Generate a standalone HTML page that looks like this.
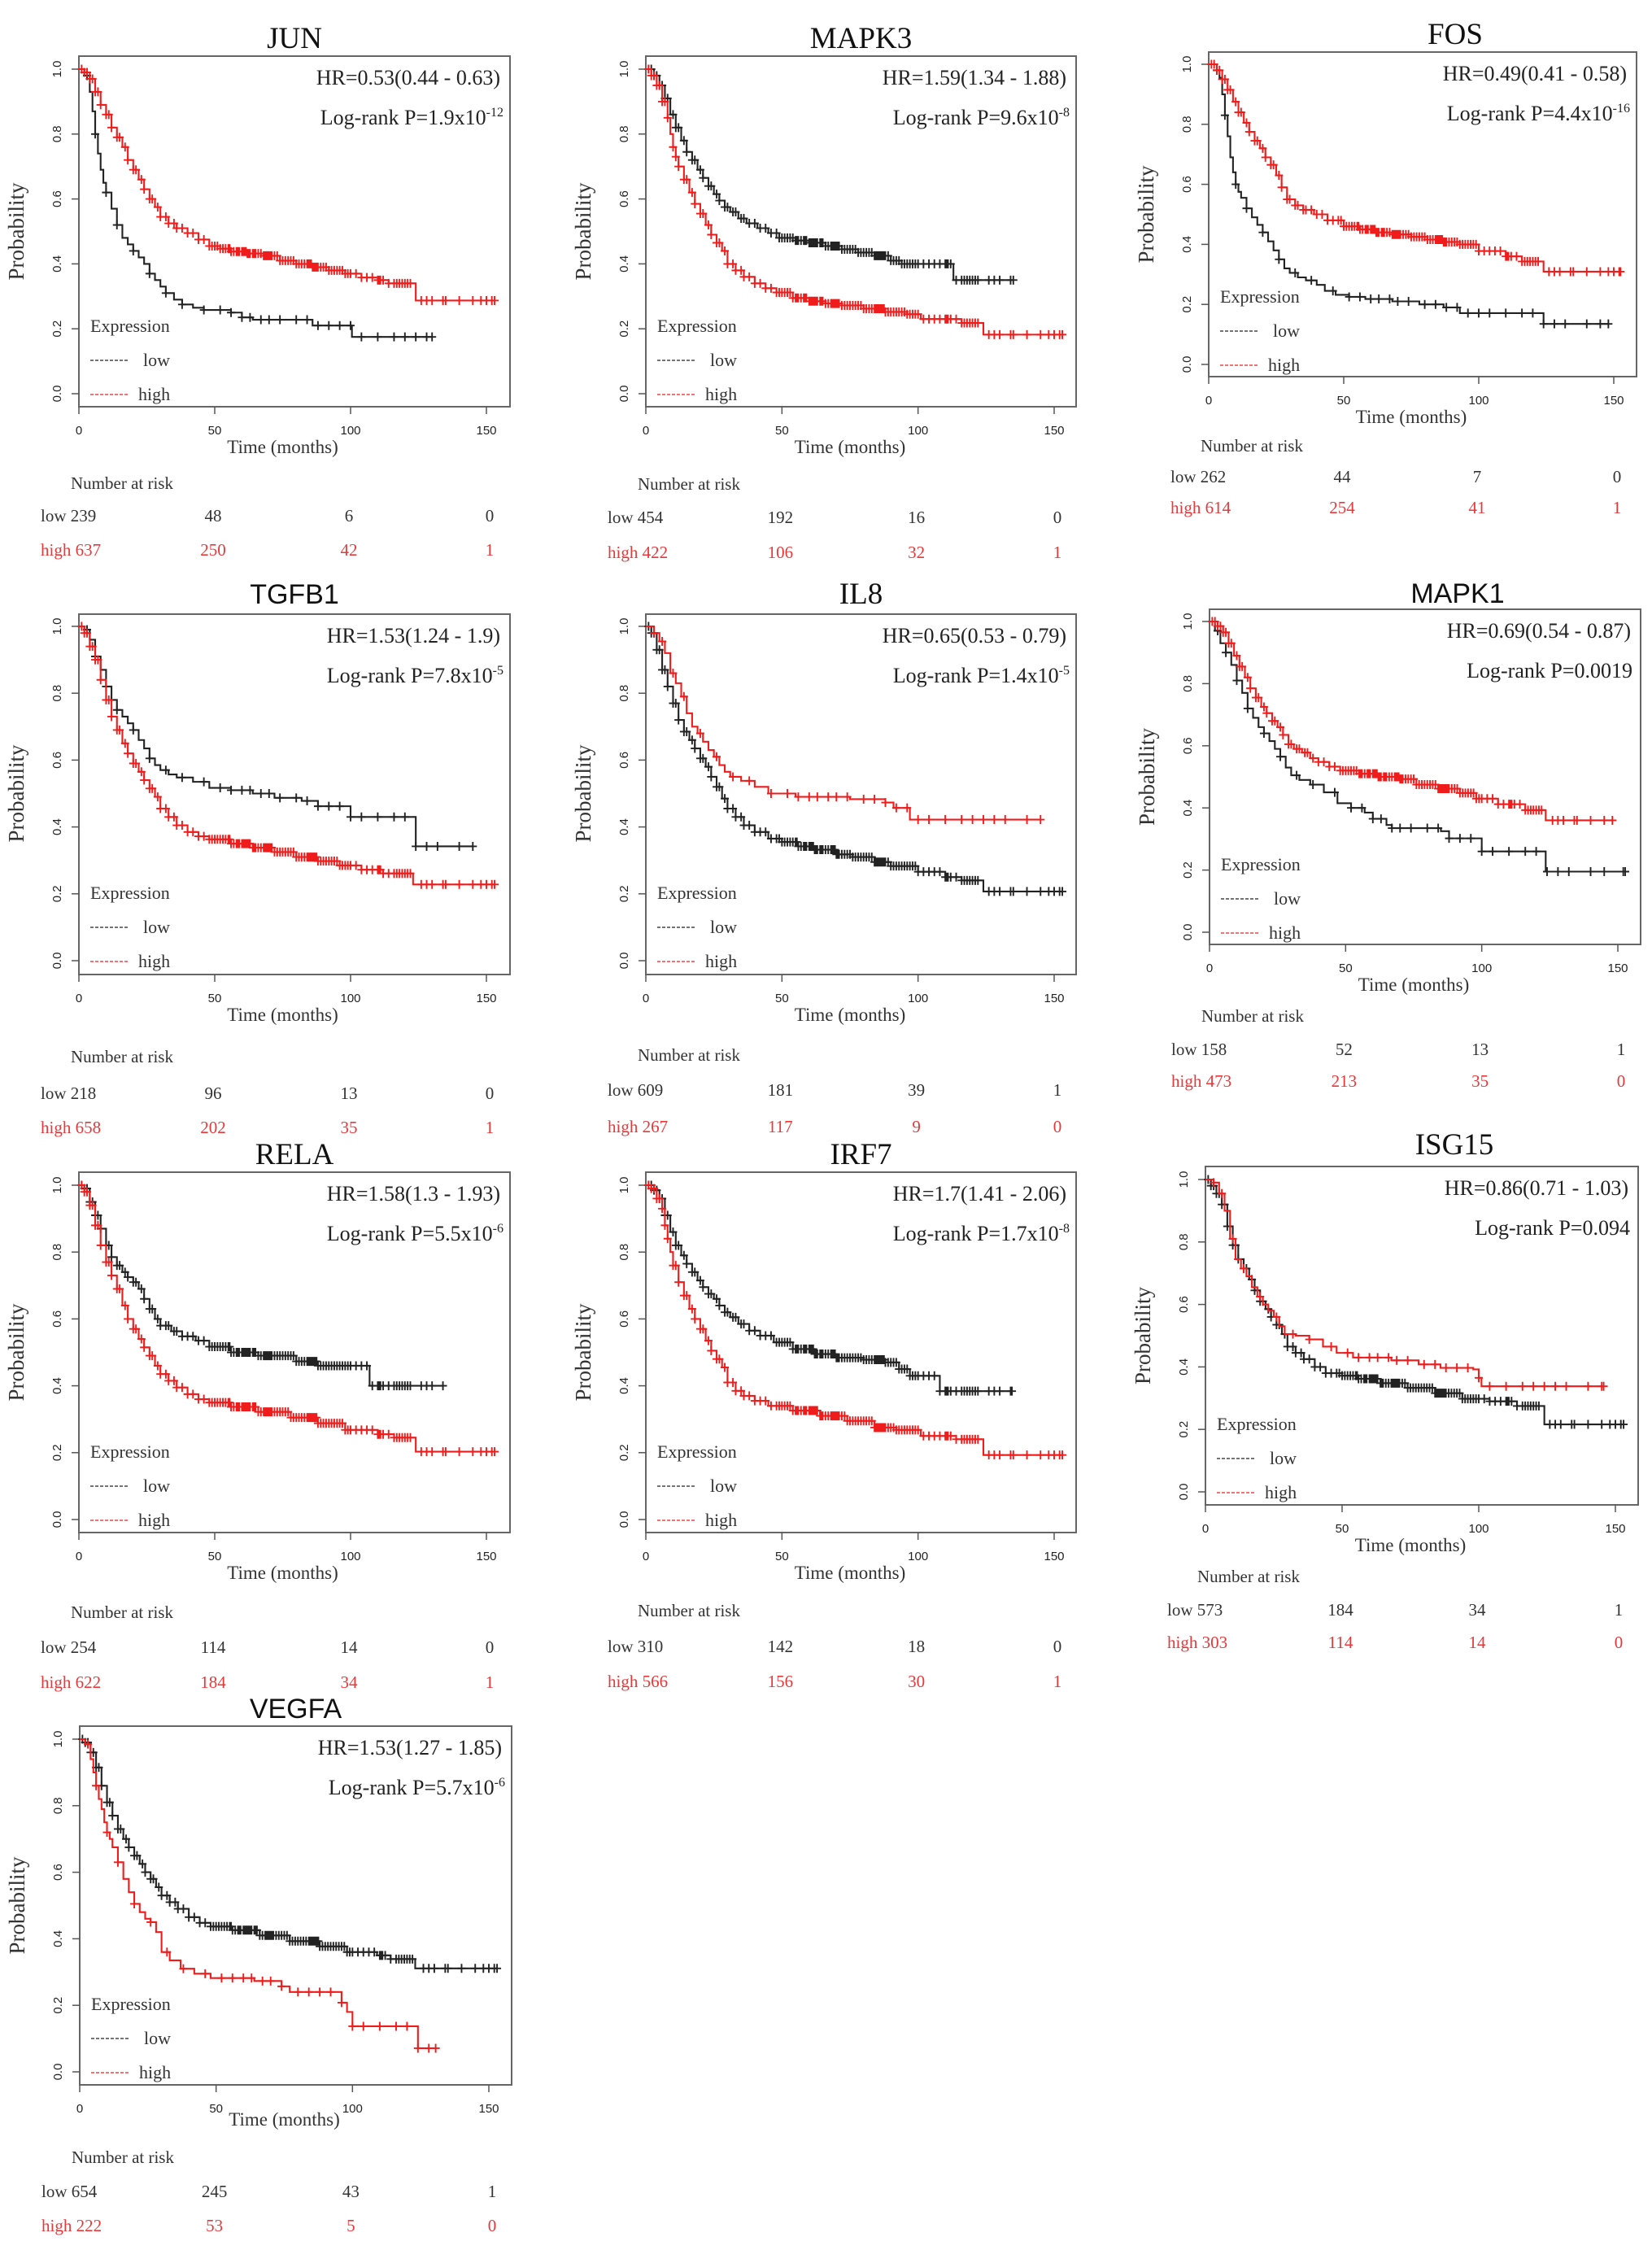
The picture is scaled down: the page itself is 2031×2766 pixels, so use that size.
<!DOCTYPE html>
<html><head><meta charset="utf-8"><title>Kaplan-Meier survival curves</title>
<style>
html,body{margin:0;padding:0;background:#fff;}
svg{display:block;}
</style></head>
<body>
<svg id="fig" width="2031" height="2766" viewBox="0 0 2031 2766" xmlns="http://www.w3.org/2000/svg"></svg>
<script>
// ---------- data (months, survival probability) ----------
const timeTicks=[0,50,100,150];
const probTicks=[0,0.2,0.4,0.6,0.8,1.0];
const probTickLabels=["0.0","0.2","0.4","0.6","0.8","1.0"];

const junLowT=[0,2,4,5,6,7,8,9,10,12,14,16,18,20,22,24,26,28,30,32,35,38,42,46,56,60,64,86,100.5];
const junLowS=[1,0.98,0.93,0.87,0.8,0.74,0.69,0.65,0.62,0.57,0.52,0.48,0.46,0.44,0.42,0.40,0.37,0.35,0.33,0.31,0.29,0.275,0.265,0.258,0.25,0.235,0.228,0.21,0.175];
const junHighT=[0,2,4,6,8,10,12,14,16,18,20,22,24,26,28,30,33,36,40,44,48,52,56,62,68,74,80,86,92,98,104,110,114,124];
const junHighS=[1,0.99,0.97,0.93,0.89,0.86,0.82,0.79,0.76,0.72,0.69,0.66,0.63,0.60,0.575,0.545,0.525,0.51,0.495,0.475,0.455,0.447,0.438,0.432,0.425,0.41,0.4,0.39,0.38,0.37,0.358,0.35,0.34,0.287];

const mapk3LowT=[0,3,5,7,9,11,13,15,17,19,21,23,25,27,29,31,34,37,41,45,49,55,60,66,72,78,84,90,94,113];
const mapk3LowS=[1,0.98,0.95,0.91,0.86,0.82,0.78,0.745,0.72,0.69,0.665,0.64,0.615,0.595,0.575,0.56,0.54,0.525,0.51,0.495,0.48,0.472,0.465,0.455,0.445,0.435,0.425,0.41,0.40,0.35];
const mapk3HighT=[0,2,4,6,8,9,10,11,12,14,16,18,20,22,24,26,28,30,33,36,40,44,48,54,60,66,72,80,88,96,101,116,124];
const mapk3HighS=[1,0.98,0.95,0.9,0.85,0.8,0.76,0.73,0.7,0.66,0.62,0.585,0.555,0.52,0.49,0.465,0.44,0.4,0.38,0.36,0.34,0.325,0.312,0.295,0.285,0.278,0.272,0.262,0.252,0.245,0.23,0.218,0.182];

const fosLowT=[0,3,4,5,6,7,8,9,10,11,12,14,16,18,20,22,24,26,28,30,33,36,40,43,47,52,58,68,78,87,93,124];
const fosLowS=[1,0.98,0.955,0.9,0.83,0.76,0.69,0.64,0.6,0.575,0.555,0.52,0.49,0.465,0.44,0.41,0.38,0.35,0.32,0.305,0.29,0.28,0.265,0.245,0.232,0.225,0.218,0.21,0.2,0.19,0.171,0.135];
const fosHighT=[0,3,5,7,9,11,13,15,17,19,21,23,25,27,29,32,35,39,44,50,56,62,68,75,81,87,93,100,110,116,124];
const fosHighS=[1,0.98,0.95,0.915,0.875,0.84,0.805,0.775,0.745,0.72,0.69,0.665,0.63,0.59,0.55,0.53,0.515,0.5,0.48,0.46,0.45,0.44,0.433,0.425,0.416,0.408,0.4,0.378,0.36,0.343,0.309];

const tgfb1LowT=[0,2,4,6,8,10,12,14,16,18,20,22,24,26,28,30,33,36,42,48,56,64,72,82,88,100,124];
const tgfb1LowS=[1,0.99,0.96,0.91,0.87,0.82,0.78,0.75,0.73,0.71,0.69,0.66,0.635,0.605,0.585,0.57,0.557,0.548,0.535,0.517,0.51,0.5,0.487,0.478,0.462,0.43,0.342];
const tgfb1HighT=[0,2,4,6,8,10,12,14,16,18,20,22,24,26,28,30,33,36,40,44,48,56,64,72,80,88,96,104,112,123];
const tgfb1HighS=[1,0.98,0.94,0.9,0.84,0.78,0.73,0.69,0.65,0.62,0.59,0.565,0.54,0.515,0.49,0.455,0.43,0.405,0.385,0.372,0.363,0.35,0.338,0.325,0.31,0.298,0.285,0.272,0.261,0.228];

const il8LowT=[0,2,4,6,8,10,12,14,16,18,20,22,24,26,28,30,33,36,40,45,50,56,62,70,76,84,90,100,110,116,124];
const il8LowS=[1,0.98,0.93,0.87,0.82,0.77,0.72,0.685,0.66,0.635,0.605,0.58,0.55,0.52,0.485,0.455,0.43,0.405,0.385,0.365,0.355,0.342,0.332,0.318,0.31,0.295,0.283,0.266,0.25,0.24,0.207];
const il8HighT=[0,3,5,7,9,11,13,15,17,19,21,23,25,27,29,31,35,40,45,55,75,88,91,97];
const il8HighS=[1,0.98,0.955,0.92,0.86,0.83,0.79,0.74,0.70,0.68,0.655,0.63,0.61,0.585,0.565,0.55,0.538,0.52,0.5,0.49,0.483,0.473,0.457,0.422];

const mapk1LowT=[0,2,4,6,8,10,12,14,16,18,20,22,24,26,28,30,33,37,42,47,52,57,60,65,67,85,88,100,123.5];
const mapk1LowS=[1,0.97,0.93,0.9,0.86,0.81,0.77,0.72,0.69,0.66,0.64,0.615,0.59,0.565,0.53,0.505,0.49,0.475,0.45,0.415,0.4,0.385,0.365,0.345,0.335,0.325,0.302,0.26,0.195];
const mapk1HighT=[0,3,5,7,9,11,13,15,17,19,21,23,25,27,29,31,34,37,40,44,48,55,62,70,76,84,92,98,106,116,123.5];
const mapk1HighS=[1,0.985,0.965,0.93,0.89,0.855,0.82,0.785,0.755,0.725,0.705,0.68,0.66,0.635,0.605,0.59,0.578,0.56,0.548,0.533,0.52,0.51,0.5,0.493,0.475,0.462,0.448,0.43,0.412,0.393,0.36];

const relaLowT=[0,2,4,6,8,10,12,14,16,18,20,22,24,26,28,30,34,38,43,48,56,66,80,88,107];
const relaLowS=[1,0.99,0.95,0.91,0.87,0.82,0.785,0.76,0.74,0.725,0.71,0.69,0.66,0.63,0.6,0.58,0.563,0.548,0.535,0.517,0.5,0.49,0.473,0.46,0.4];
const relaHighT=[0,2,4,6,8,10,12,14,16,18,20,22,24,26,28,30,33,36,40,44,48,56,66,78,88,98,110,116,124];
const relaHighS=[1,0.98,0.94,0.88,0.82,0.77,0.73,0.69,0.64,0.6,0.57,0.54,0.515,0.49,0.46,0.435,0.415,0.395,0.375,0.36,0.35,0.337,0.322,0.305,0.288,0.268,0.255,0.245,0.203];

const irf7LowT=[0,3,5,7,9,11,13,15,17,19,21,23,25,27,29,31,34,38,42,47,54,62,70,80,88,93,97,108];
const irf7LowS=[1,0.985,0.96,0.91,0.86,0.82,0.79,0.765,0.74,0.715,0.695,0.675,0.66,0.64,0.62,0.605,0.585,0.565,0.55,0.53,0.51,0.495,0.484,0.478,0.47,0.45,0.43,0.384];
const irf7HighT=[0,2,4,6,7,8,9,10,12,14,16,18,20,22,24,26,28,30,33,36,40,45,54,64,74,84,92,101,114,124];
const irf7HighS=[1,0.99,0.96,0.93,0.88,0.84,0.8,0.76,0.71,0.67,0.63,0.6,0.57,0.535,0.505,0.48,0.455,0.41,0.385,0.37,0.355,0.34,0.326,0.31,0.295,0.275,0.268,0.25,0.24,0.193];

const isg15LowT=[0,2,4,6,8,10,12,14,16,18,20,22,24,26,28,30,33,36,40,44,50,56,64,74,84,94,104,114,124];
const isg15LowS=[1,0.98,0.955,0.92,0.85,0.79,0.745,0.715,0.68,0.645,0.61,0.585,0.56,0.535,0.505,0.465,0.445,0.425,0.4,0.38,0.372,0.362,0.348,0.333,0.316,0.298,0.29,0.275,0.216];
const isg15HighT=[0,3,5,7,9,11,13,15,17,19,21,23,25,27,29,33,38,43,48,54,68,78,86,98,100,101];
const isg15HighS=[1,0.99,0.955,0.9,0.81,0.745,0.715,0.69,0.655,0.625,0.6,0.58,0.56,0.53,0.505,0.5,0.488,0.465,0.445,0.43,0.421,0.408,0.397,0.392,0.365,0.338];

const vegfaLowT=[0,2,4,6,8,10,12,14,16,18,20,22,24,26,28,30,33,36,40,44,48,56,66,77,88,98,109,114,123];
const vegfaLowS=[1,0.99,0.96,0.915,0.86,0.81,0.77,0.73,0.7,0.675,0.65,0.625,0.6,0.58,0.555,0.53,0.51,0.49,0.465,0.448,0.437,0.426,0.41,0.393,0.377,0.36,0.35,0.339,0.311];
const vegfaHighT=[0,2,4,5,6,7,8,9,10,11,12,14,16,18,20,22,24,26,28,30,33,37,42,48,64,74,77,96,98,100,124];
const vegfaHighS=[1,0.985,0.94,0.9,0.86,0.82,0.79,0.75,0.72,0.7,0.675,0.63,0.58,0.54,0.505,0.48,0.46,0.45,0.42,0.36,0.335,0.31,0.295,0.282,0.273,0.257,0.24,0.208,0.18,0.137,0.071];

const lowEnd=[130,135,148,145,153,152.7,134,134.5,153,153];
const highEnd=[153,153,152.5,153,145,148,153,153,145.7,130.5];

const censorDense=[1,2,3,4,5,6,7,8,10,11,12,14,15,17,18,20,21,23,24,26,27,29,30,32,33,35,36,38,40,42,44,46,48,49,50,51,52,53,54,55,55.5,56,57,58,58.5,59,60,60.5,61,61.5,62,62.5,63,64,64.5,65,66,67,68,68.5,69,69.5,70,70.5,71,72,73,74,75,76,77,78,79,80,81,82,83,84,84.5,85,85.5,86,86.5,87,87.5,88,89,90,91,92,93,94,95,96,97,98,99,100,102,104,106,108,110,110.5,111,112,114,116,117,118,119,120,121,122,126,128,130,134,135,140,145,148,150,152];
const censorSparse=[3,6,10,14,20,26,32,38,46,52,56,60,63,67,70,74,80,84,88,92,96,100,104,110,116,120,124,128,132,140,145,152];

const riskLow=[[239,48,6,0],[454,192,16,0],[262,44,7,0],[218,96,13,0],[609,181,39,1],[158,52,13,1],[254,114,14,0],[310,142,18,0],[573,184,34,1],[654,245,43,1]];
const riskHigh=[[637,250,42,1],[422,106,32,1],[614,254,41,1],[658,202,35,1],[267,117,9,0],[473,213,35,0],[622,184,34,1],[566,156,30,1],[303,114,14,0],[222,53,5,0]];

const geneNames=["JUN","MAPK3","FOS","TGFB1","IL8","MAPK1","RELA","IRF7","ISG15","VEGFA"];
const hrLabels=["HR=0.53(0.44 - 0.63)","HR=1.59(1.34 - 1.88)","HR=0.49(0.41 - 0.58)","HR=1.53(1.24 - 1.9)","HR=0.65(0.53 - 0.79)","HR=0.69(0.54 - 0.87)","HR=1.58(1.3 - 1.93)","HR=1.7(1.41 - 2.06)","HR=0.86(0.71 - 1.03)","HR=1.53(1.27 - 1.85)"];
const pMantissa=["1.9x10","9.6x10","4.4x10","7.8x10","1.4x10","0.0019","5.5x10","1.7x10","0.094","5.7x10"];
const pExponent=["-12","-8","-16","-5","-5","","-6","-8","","-6"];

const lowT=[junLowT,mapk3LowT,fosLowT,tgfb1LowT,il8LowT,mapk1LowT,relaLowT,irf7LowT,isg15LowT,vegfaLowT];
const lowS=[junLowS,mapk3LowS,fosLowS,tgfb1LowS,il8LowS,mapk1LowS,relaLowS,irf7LowS,isg15LowS,vegfaLowS];
const highT=[junHighT,mapk3HighT,fosHighT,tgfb1HighT,il8HighT,mapk1HighT,relaHighT,irf7HighT,isg15HighT,vegfaHighT];
const highS=[junHighS,mapk3HighS,fosHighS,tgfb1HighS,il8HighS,mapk1HighS,relaHighS,irf7HighS,isg15HighS,vegfaHighS];
const lowCensor=[censorSparse,censorDense,censorSparse,censorSparse,censorDense,censorSparse,censorDense,censorDense,censorDense,censorDense];
const highCensor=[censorDense,censorDense,censorDense,censorDense,censorSparse,censorDense,censorDense,censorDense,censorSparse,censorSparse];

// ---------- layout (pixels) ----------
const layout=[
 {L:97,T:69,R:627,B:500,X150:598,Y1:85,Y0:484,tY:47,nY:594,lY:634,hY:676,sans:false},
 {L:794,T:69,R:1323,B:500,X150:1296,Y1:85,Y0:484,tY:47,nY:595,lY:636,hY:679,sans:false},
 {L:1486,T:64,R:2012,B:463,X150:1984,Y1:79,Y0:448,tY:42,nY:548,lY:586,hY:624,sans:false},
 {L:97,T:755,R:627,B:1198,X150:598,Y1:770,Y0:1181,tY:730,nY:1299,lY:1344,hY:1386,sans:true},
 {L:794,T:755,R:1323,B:1198,X150:1296,Y1:770,Y0:1181,tY:730,nY:1297,lY:1340,hY:1385,sans:false},
 {L:1487,T:749,R:2017,B:1161,X150:1989,Y1:764,Y0:1146,tY:729,nY:1249,lY:1290,hY:1329,sans:true},
 {L:97,T:1441,R:627,B:1884,X150:598,Y1:1457,Y0:1868,tY:1419,nY:1982,lY:2025,hY:2068,sans:false},
 {L:794,T:1441,R:1323,B:1884,X150:1296,Y1:1457,Y0:1868,tY:1419,nY:1980,lY:2024,hY:2067,sans:false},
 {L:1482,T:1434,R:2014,B:1850,X150:1986,Y1:1450,Y0:1834,tY:1407,nY:1938,lY:1979,hY:2019,sans:false},
 {L:98,T:2122,R:629,B:2563,X150:601,Y1:2138,Y0:2547,tY:2100,nY:2652,lY:2694,hY:2736,sans:true}
];

const NS="http://www.w3.org/2000/svg";
const SERIF='"Liberation Serif", serif';
const SANS='"Liberation Sans", sans-serif';
const RED="#f01c1c", BLACK="#222", RISKRED="#e8383a";
const svg=document.getElementById("fig");

function mk(parent,tag,attrs,txt){
  const e=document.createElementNS(NS,tag);
  for(const k in attrs) e.setAttribute(k,attrs[k]);
  if(txt!==undefined) e.textContent=txt;
  parent.appendChild(e);
  return e;
}
function stepAt(T,S,c){let v=S[0];for(let i=0;i<T.length;i++){if(T[i]<=c)v=S[i];else break;}return v;}

function drawPanel(i){
  const g=layout[i];
  const xs=t=>g.L+(g.X150-g.L)*t/150;
  const ys=p=>g.Y0-(g.Y0-g.Y1)*p;
  const grp=mk(svg,"g",{});
  
  

  const title=mk(grp,"text",{x:(g.L+g.R)/2+(i%3===2?40:0),y:g.tY+12,"text-anchor":"middle","font-family":g.sans?SANS:SERIF,"font-size":g.sans?34:37,fill:"#111"},geneNames[i]);
  
  

  const box=mk(grp,"rect",{x:g.L,y:g.T,width:g.R-g.L,height:g.B-g.T,fill:"none",stroke:"#666","stroke-width":2});
  
  

  probTicks.forEach((p,k)=>{
    const y=ys(p);
    const tk=mk(grp,"line",{x1:g.L-9,x2:g.L,y1:y,y2:y,stroke:"#555","stroke-width":1.5});
    
    
    const lb=mk(grp,"text",{x:0,y:0,transform:`translate(${g.L-22},${y}) rotate(-90)`,"text-anchor":"middle","font-family":SANS,"font-size":15,fill:"#222"},probTickLabels[k]);
    
    
  });
  const yt=mk(grp,"text",{x:0,y:0,transform:`translate(${g.L-68},${(g.Y0+g.Y1)/2}) rotate(-90)`,"text-anchor":"middle","font-family":SERIF,"font-size":27,fill:"#333"},"Probability");
  
  

  timeTicks.forEach(t=>{
    const x=xs(t);
    const tk=mk(grp,"line",{x1:x,x2:x,y1:g.B,y2:g.B+9,stroke:"#555","stroke-width":1.5});
    
    
    const lb=mk(grp,"text",{x:x,y:g.B+34,"text-anchor":"middle","font-family":SANS,"font-size":15,fill:"#222"},String(t));
    
    
  });
  const xt=mk(grp,"text",{x:xs(75),y:g.B+(i===9?50:57),"text-anchor":"middle","font-family":SERIF,"font-size":23,fill:"#333"},"Time (months)");
  
  

  const series=[{T:lowT[i],S:lowS[i],end:lowEnd[i],C:lowCensor[i],col:BLACK,name:'low'},
                {T:highT[i],S:highS[i],end:highEnd[i],C:highCensor[i],col:RED,name:'high'}];
  series.forEach(s=>{
    let d=`M${xs(0)},${ys(s.S[0])}`;
    for(let k=1;k<s.T.length;k++){d+=`H${xs(s.T[k])}V${ys(s.S[k])}`;}
    d+=`H${xs(s.end)}`;
    const p=mk(grp,"path",{d:d,fill:"none",stroke:s.col,"stroke-width":2.1});
    
    
    let cd="";
    s.C.filter(c=>c<s.end).concat([s.end]).forEach(c=>{
      const x=xs(c), y=ys(stepAt(s.T,s.S,c));
      cd+=`M${x-5},${y}H${x+5}M${x},${y-5.5}V${y+5.5}`;
    });
    const cm=mk(grp,"path",{d:cd,fill:"none",stroke:s.col,"stroke-width":1.9});
    
    
  });

  const hr=mk(grp,"text",{x:g.R-12,y:g.T+35,"text-anchor":"end","font-family":SERIF,"font-size":26,fill:"#222"},hrLabels[i]);
  
  
  const pv=mk(grp,"text",{x:g.R-(pExponent[i]?8:10),y:g.T+84,"text-anchor":"end","font-family":SERIF,"font-size":26,fill:"#222"});
  
  
  mk(pv,"tspan",{},"Log-rank P="+pMantissa[i]);
  if(pExponent[i]) mk(pv,"tspan",{dy:-10,"font-size":16},pExponent[i]);

  const lg=mk(grp,"g",{});
  
  
  mk(lg,"text",{x:g.L+14,y:g.Y0-76,"font-family":SERIF,"font-size":22,fill:"#333"},"Expression");
  const ll=mk(lg,"line",{x1:g.L+14,x2:g.L+60,y1:g.Y0-41,y2:g.Y0-41,stroke:BLACK,"stroke-width":1.3,"stroke-dasharray":"4,2"});
  
  
  mk(lg,"text",{x:g.L+79,y:g.Y0-34,"font-family":SERIF,"font-size":22,fill:"#333"},"low");
  const hl=mk(lg,"line",{x1:g.L+14,x2:g.L+60,y1:g.Y0+1,y2:g.Y0+1,stroke:RED,"stroke-width":1.3,"stroke-dasharray":"4,2"});
  
  
  mk(lg,"text",{x:g.L+73,y:g.Y0+8,"font-family":SERIF,"font-size":22,fill:"#333"},"high");

  const rk=mk(grp,"g",{});
  
  
  mk(rk,"text",{x:g.L-10,y:g.nY+7,"font-family":SERIF,"font-size":21,fill:"#333"},"Number at risk");
  mk(rk,"text",{x:g.L-47,y:g.lY+7,"font-family":SERIF,"font-size":21,fill:"#333"},"low "+riskLow[i][0]);
  mk(rk,"text",{x:g.L-47,y:g.hY+7,"font-family":SERIF,"font-size":21,fill:RISKRED},"high "+riskHigh[i][0]);
  for(let k=1;k<4;k++){
    const x=xs(timeTicks[k])+(k===3?4:-2);
    mk(rk,"text",{x:x,y:g.lY+7,"text-anchor":"middle","font-family":SERIF,"font-size":21,fill:"#333"},String(riskLow[i][k]));
    mk(rk,"text",{x:x,y:g.hY+7,"text-anchor":"middle","font-family":SERIF,"font-size":21,fill:RISKRED},String(riskHigh[i][k]));
  }
}
for(let i=0;i<layout.length;i++) drawPanel(i);
</script>
</body></html>
